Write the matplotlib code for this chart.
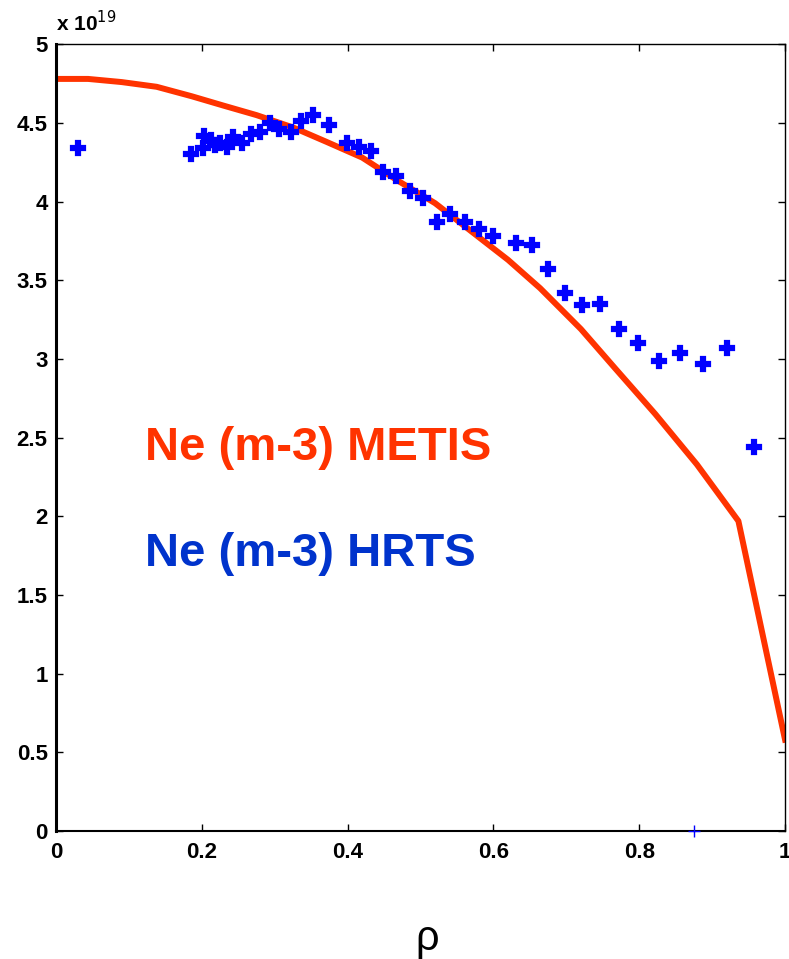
import numpy as np
import matplotlib.pyplot as plt

plt.rcParams['font.family'] = ['Liberation Sans', 'DejaVu Sans']

# METIS profile (units of 1e19 m^-3)
rho_metis = [0.0, 0.044, 0.09, 0.138, 0.186, 0.23, 0.275, 0.326, 0.371, 0.42,
             0.47, 0.52, 0.57, 0.62, 0.664, 0.72, 0.767, 0.822, 0.879, 0.936, 1.0]
ne_metis = [4.78, 4.78, 4.76, 4.73, 4.67, 4.61, 4.55, 4.47, 4.38, 4.28,
            4.13, 3.99, 3.81, 3.63, 3.45, 3.19, 2.94, 2.65, 2.33, 1.97, 0.58]

# HRTS points
rho_hrts = [0.030, 0.185, 0.202, 0.203, 0.213, 0.218, 0.225, 0.234, 0.243, 0.255,
            0.267, 0.280, 0.293, 0.306, 0.322, 0.336, 0.352, 0.375, 0.399, 0.415,
            0.432, 0.449, 0.467, 0.485, 0.503, 0.522, 0.540, 0.561, 0.580, 0.600,
            0.631, 0.653, 0.675, 0.698, 0.721, 0.746, 0.772, 0.798, 0.827, 0.856,
            0.887, 0.921, 0.957]
ne_hrts = [4.34, 4.30, 4.34, 4.42, 4.39, 4.36, 4.37, 4.35, 4.41, 4.37,
           4.43, 4.445, 4.50, 4.46, 4.44, 4.51, 4.55, 4.49, 4.375, 4.345,
           4.32, 4.19, 4.16, 4.07, 4.02, 3.87, 3.92, 3.87, 3.825, 3.78,
           3.735, 3.725, 3.57, 3.42, 3.34, 3.35, 3.19, 3.10, 2.99, 3.04,
           2.97, 3.07, 2.44]

# stray point at zero
rho_zero = [0.875]
ne_zero = [0.0]

xticks = [0, 0.2, 0.4, 0.6, 0.8, 1]
xticklabels = ['0', '0.2', '0.4', '0.6', '0.8', '1']
yticks = [0, 0.5, 1, 1.5, 2, 2.5, 3, 3.5, 4, 4.5, 5]
yticklabels = ['0', '0.5', '1', '1.5', '2', '2.5', '3', '3.5', '4', '4.5', '5']

fig = plt.figure(figsize=(7.89, 9.59), dpi=100)
ax = fig.add_axes([0.071, 0.1335, 0.924, 0.8203])

ax.plot(rho_metis, ne_metis, '-', color='#ff3300', linewidth=4.3, zorder=2)
ax.plot(rho_hrts, ne_hrts, 'P', color='#0000ff', markersize=9.5,
        markeredgewidth=1.6, zorder=3, clip_on=False)
ax.plot(rho_zero, ne_zero, '+', color='#0000ff', markersize=9,
        markeredgewidth=1, zorder=3, clip_on=False)

ax.set_xlim(0, 1)
ax.set_ylim(0, 5)
ax.set_xticks(xticks)
ax.set_xticklabels(xticklabels, fontsize=16, fontweight='bold')
ax.set_yticks(yticks)
ax.set_yticklabels(yticklabels, fontsize=16, fontweight='bold')
ax.tick_params(direction='in', top=True, right=True, length=5, width=1)
ax.tick_params(axis='x', pad=8)
ax.tick_params(axis='y', pad=6)

ax.spines['left'].set_linewidth(2.2)
ax.spines['bottom'].set_linewidth(1.5)
ax.spines['top'].set_linewidth(1)
ax.spines['right'].set_linewidth(1)

ax.text(0.0, 1.012, r'x 10$^{19}$', transform=ax.transAxes, fontsize=15,
        fontweight='bold', ha='left', va='bottom')

ax.text(0.122, 0.471, 'Ne (m-3) METIS', transform=ax.transAxes, color='#ff3300',
        fontsize=34, fontweight='bold', ha='left', va='baseline')
ax.text(0.122, 0.337, 'Ne (m-3) HRTS', transform=ax.transAxes, color='#0033cc',
        fontsize=34, fontweight='bold', ha='left', va='baseline')

fig.text(0.541, 0.0, 'ρ', fontsize=30, ha='center', va='bottom')

fig.savefig('out.png', dpi=100)
